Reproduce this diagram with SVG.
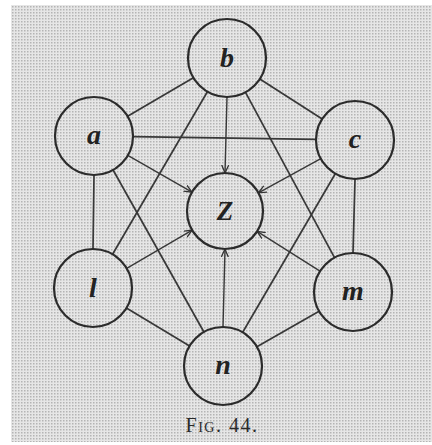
<svg xmlns="http://www.w3.org/2000/svg" width="432" height="445" viewBox="0 0 432 445">
  <defs>
    <pattern id="tex" width="3" height="3" patternUnits="userSpaceOnUse">
      <rect width="3" height="3" fill="#e6e6e6"/>
      <rect x="0" y="0" width="1.5" height="1.5" fill="#b4b4b4"/>
    </pattern>
    <marker id="arr" markerWidth="10" markerHeight="10" refX="8" refY="4" orient="auto" markerUnits="userSpaceOnUse">
      <path d="M0,0.5 L8,4 L0,7.5" fill="none" stroke="#333" stroke-width="1.3"/>
    </marker>
  </defs>
  <style>
    .node circle { fill: url(#tex); stroke: #2b2b2b; stroke-width: 2.2; }
    .node text { font-family: "Liberation Serif", "DejaVu Serif", serif; font-style: italic; font-weight: bold; font-size: 28px; fill: #222; text-anchor: middle; }
    .edges line { stroke: #383838; stroke-width: 1.7; }
    .edges line.arrow { stroke-width: 1.4; marker-end: url(#arr); }
    .caption { font-family: "Liberation Serif", "DejaVu Serif", serif; font-size: 20px; letter-spacing: 1.5px; font-variant: small-caps; fill: #2a2a2a; text-anchor: middle; }
  </style>
  <rect x="0" y="0" width="432" height="445" fill="#ffffff"/>
  <rect x="11" y="5" width="421" height="437" fill="url(#tex)"/>
  <g class="edges" id="connectors">
    <line x1="193.4" y1="77.7" x2="127.6" y2="116.3"/>
    <line x1="259.8" y1="79.0" x2="322.2" y2="119.0"/>
    <line x1="133" y1="136.6" x2="316" y2="139.4"/>
    <line x1="94" y1="175" x2="93" y2="249"/>
    <line x1="355" y1="179" x2="353" y2="253"/>
    <line x1="126.4" y1="308.1" x2="189.6" y2="345.9"/>
    <line x1="319.1" y1="311.3" x2="256.9" y2="346.7"/>
    <line x1="207.4" y1="91.7" x2="112.6" y2="254.3"/>
    <line x1="245.5" y1="92.3" x2="334.5" y2="257.7"/>
    <line x1="113.1" y1="170.0" x2="203.9" y2="332.0"/>
    <line x1="335.3" y1="173.7" x2="242.7" y2="332.3"/>
    <line class="arrow" x1="227" y1="97" x2="225" y2="173"/>
    <line class="arrow" x1="127.8" y1="155.4" x2="192.0" y2="192.1"/>
    <line class="arrow" x1="320.8" y1="158.7" x2="258.4" y2="192.8"/>
    <line class="arrow" x1="126.7" y1="268.3" x2="192.2" y2="230.1"/>
    <line class="arrow" x1="320.0" y1="271.1" x2="257.1" y2="231.3"/>
    <line class="arrow" x1="223" y1="327" x2="225" y2="249"/>
  </g>
  <g class="node" id="node-b"><circle cx="227" cy="58" r="39"/><text x="227" y="67">b</text></g>
  <g class="node" id="node-a"><circle cx="94" cy="136" r="39"/><text x="94" y="144">a</text></g>
  <g class="node" id="node-c"><circle cx="355" cy="140" r="39"/><text x="355" y="148">c</text></g>
  <g class="node" id="node-Z"><circle cx="225" cy="211" r="38"/><text x="225" y="220" style="font-size:27px">Z</text></g>
  <g class="node" id="node-l"><circle cx="93" cy="288" r="39"/><text x="93" y="297">l</text></g>
  <g class="node" id="node-m"><circle cx="353" cy="292" r="39"/><text x="353" y="300">m</text></g>
  <g class="node" id="node-n"><circle cx="223" cy="366" r="39"/><text x="223" y="374">n</text></g>
  <text class="caption" x="222" y="432">Fig. 44.</text>
</svg>
